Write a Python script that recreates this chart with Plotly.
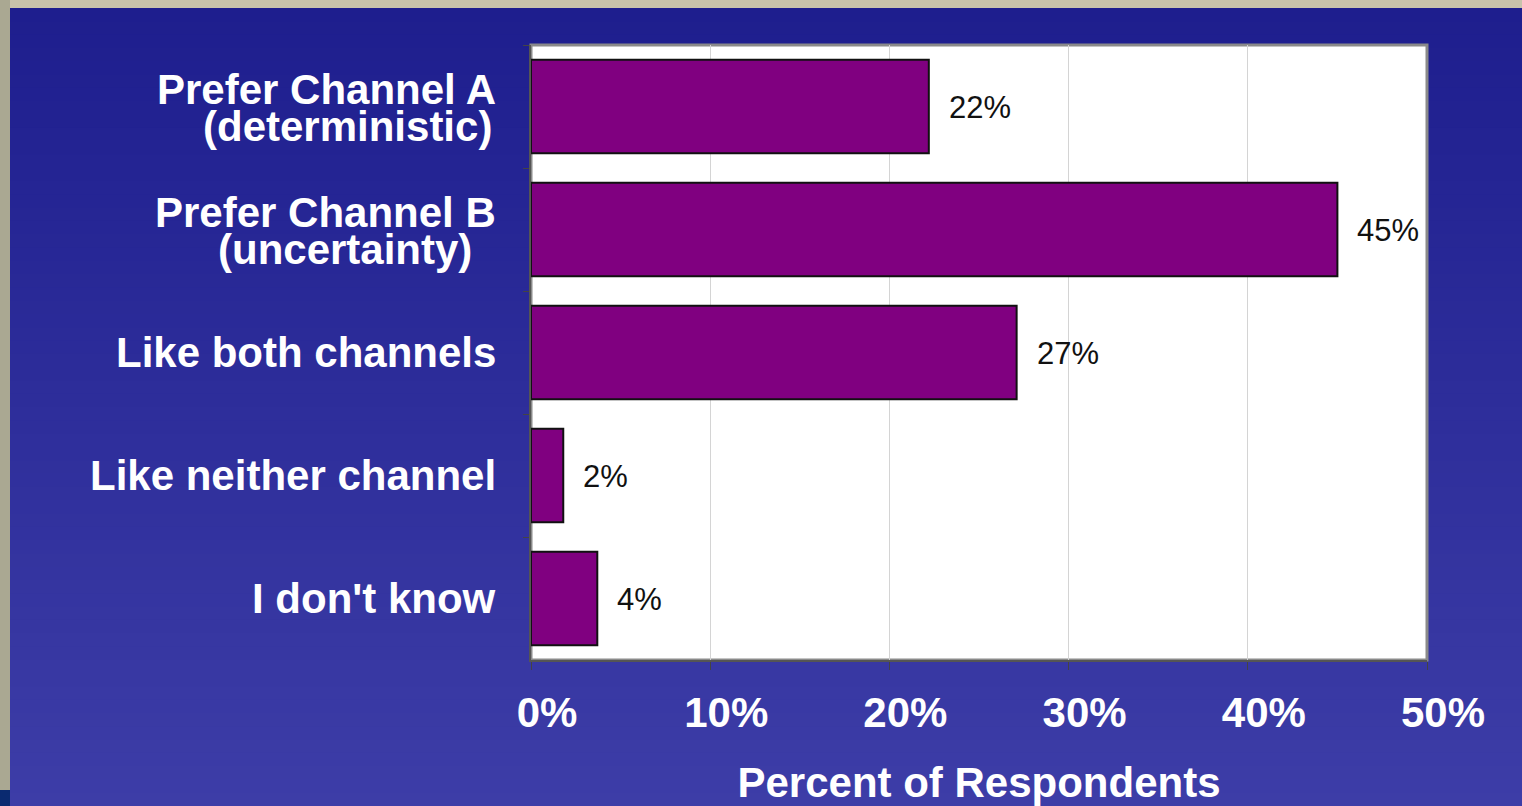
import plotly.graph_objects as go

categories = ["Prefer Channel A<br>(deterministic)", "Prefer Channel B<br>(uncertainty)",
              "Like both channels", "Like neither channel", "I don't know"]
values = [22.2, 45.0, 27.1, 1.8, 3.7]
value_labels = ["22%", "45%", "27%", "2%", "4%"]
x_tickvals = [0, 10, 20, 30, 40, 50]
x_ticktext = ["0%", "10%", "20%", "30%", "40%", "50%"]
x_title = "Percent of Respondents"

W, H = 1522, 806
L, R, T, B = 531, 95, 45, 146
pw = W - L - R
ph = H - T - B

def px2paper_x(px):
    return (px - L) / pw

def px2paper_y(py):
    return 1 - (py - T) / ph

BOLD = "Liberation Sans, Arial, sans-serif"
VALF = "Liberation Sans, Arial, sans-serif"
FS = 42

fig = go.Figure()
fig.add_trace(go.Bar(
    y=categories, x=values, orientation="h",
    marker=dict(color="#800080", line=dict(color="#111111", width=2)),
    width=0.76, hoverinfo="skip",
))

shapes = []
n = 60
c0 = (0x1e, 0x1e, 0x8e)
c1 = (0x3d, 0x3d, 0xa7)
top_px, bot_px = 8, 806
for i in range(n):
    y0 = top_px + (bot_px - top_px) * i / n
    y1 = top_px + (bot_px - top_px) * (i + 1) / n + 1
    t = i / (n - 1)
    col = "rgb(%d,%d,%d)" % tuple(round(a + (b - a) * t) for a, b in zip(c0, c1))
    shapes.append(dict(type="rect", xref="paper", yref="paper", layer="below",
                       x0=px2paper_x(0), x1=px2paper_x(W), y0=px2paper_y(y0), y1=px2paper_y(y1),
                       fillcolor=col, line=dict(width=0)))
shapes.append(dict(type="rect", xref="paper", yref="paper", layer="below",
                   x0=px2paper_x(0), x1=px2paper_x(W), y0=px2paper_y(0), y1=px2paper_y(8),
                   fillcolor="#c8c3ab", line=dict(width=0)))
shapes.append(dict(type="rect", xref="paper", yref="paper", layer="below",
                   x0=px2paper_x(0), x1=px2paper_x(10), y0=px2paper_y(0), y1=px2paper_y(790),
                   fillcolor="#aaa892", line=dict(width=0)))
shapes.append(dict(type="rect", xref="paper", yref="paper", layer="below",
                   x0=px2paper_x(0), x1=px2paper_x(10), y0=px2paper_y(790), y1=px2paper_y(806),
                   fillcolor="#0a2a70", line=dict(width=0)))
shapes.append(dict(type="rect", xref="paper", yref="paper", layer="below",
                   x0=0, x1=1, y0=0, y1=1, fillcolor="white", line=dict(color="#8a8a8a", width=3)))
fig.update_layout(shapes=shapes)

annotations = []
for c, v, lab in zip(categories, values, value_labels):
    annotations.append(dict(x=v, y=c, xref="x", yref="y", text=lab, showarrow=False,
                            xanchor="left", xshift=18, yshift=-1,
                            font=dict(family=VALF, size=31, color="#111111")))
right_edges = [[497, 493], [497, 473], [497], [497], [497]]
for c, edges in zip(categories, right_edges):
    lines = c.split("<br>")
    nl = len(lines)
    for j, (ln, re_) in enumerate(zip(lines, edges)):
        ysh = 0 if nl == 1 else (17 if j == 0 else -20)
        annotations.append(dict(x=0, y=c, xref="paper", yref="y", text=ln, showarrow=False,
                                xanchor="right", xshift=re_ - L, yshift=ysh, borderpad=0,
                                font=dict(family=BOLD, size=FS, color="white", weight="bold")))
fig.update_layout(annotations=annotations)

fig.update_xaxes(range=[0, 50], tickvals=x_tickvals, ticktext=x_ticktext,
                 showgrid=True, gridcolor="#d4d4d4", gridwidth=1, zeroline=False,
                 showline=True, linecolor="#555555", linewidth=2,
                 ticks="outside", ticklen=8, tickcolor="#444444",
                 ticklabelshift=16, ticklabelstandoff=7, automargin=False,
                 tickfont=dict(family=BOLD, size=FS, color="white", weight="bold"),
                 title=dict(text=x_title, standoff=34,
                            font=dict(family=BOLD, size=FS, color="white", weight="bold")),
                 fixedrange=True)
fig.update_yaxes(categoryorder="array", categoryarray=categories, autorange="reversed",
                 showticklabels=False, showline=True, linecolor="#555555", linewidth=2,
                 ticks="outside", ticklen=6, tickcolor="#444444", tickson="boundaries",
                 showgrid=False, fixedrange=True, automargin=False)

fig.update_layout(width=W, height=H, margin=dict(l=L, r=R, t=T, b=B, autoexpand=False),
                  paper_bgcolor="#2c2c9a", plot_bgcolor="rgba(0,0,0,0)",
                  showlegend=False, bargap=0.24)

fig.write_html("out.html", config={"displayModeBar": False},
               post_script="document.body.style.margin='0';document.body.style.overflow='hidden';")
